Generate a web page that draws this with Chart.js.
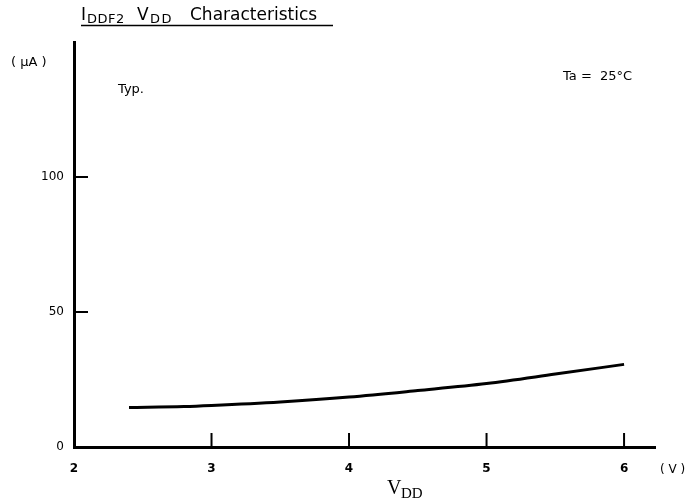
<!DOCTYPE html>
<html lang="en">
<head>
    <meta charset="UTF-8">
    <title>IDDF2 VDD Characteristics</title>
    <script src="https://cdn.jsdelivr.net/npm/chart.js"></script>
    <style>
        html, body { margin: 0; padding: 0; background: #fff; }
        canvas { display: block; }
    </style>
</head>
<body>
    <canvas id="iddChart" width="694" height="503"></canvas>

    <script>
        // values
        const vdd = [2.4, 2.8, 3.0, 3.5, 4.0, 4.5, 5.0, 5.5, 6.0];
        const idd = [14.6, 15.0, 15.4, 16.7, 18.5, 20.9, 23.5, 27.0, 30.6];
        const xTicks = [2, 3, 4, 5, 6];
        const yTicks = [0, 50, 100];

        const FONT = '"DejaVu Sans", sans-serif';

        // inward tick marks, drawn at the scale's own tick positions
        const tickMarks = {
            id: 'tickMarks',
            afterDraw(chart) {
                const { ctx, scales: { x, y } } = chart;
                ctx.save();
                ctx.strokeStyle = '#000';
                ctx.lineWidth = 2;
                x.ticks.forEach(t => {
                    if (t.value === x.min) return;
                    const px = x.getPixelForValue(t.value);
                    ctx.beginPath();
                    ctx.moveTo(px, y.bottom);
                    ctx.lineTo(px, y.bottom - 14);
                    ctx.stroke();
                });
                y.ticks.forEach(t => {
                    if (t.value === y.min) return;
                    const py = y.getPixelForValue(t.value);
                    ctx.beginPath();
                    ctx.moveTo(x.left, py);
                    ctx.lineTo(x.left + 14, py);
                    ctx.stroke();
                });
                ctx.restore();
            }
        };

        // title, units and notes
        const labels = {
            id: 'labels',
            afterDraw(chart) {
                const ctx = chart.ctx;
                ctx.save();
                ctx.fillStyle = '#000';
                ctx.textBaseline = 'alphabetic';
                ctx.textAlign = 'left';

                // title with subscripts
                ctx.font = '17px ' + FONT;
                ctx.fillText('I', 81, 20);
                ctx.fillText('V', 137, 20);
                ctx.fillText('Characteristics', 190, 20);
                ctx.font = '13px ' + FONT;
                ctx.letterSpacing = '0.5px';
                ctx.fillText('DDF2', 87, 23);
                ctx.letterSpacing = '1.5px';
                ctx.fillText('DD', 150, 23);
                ctx.letterSpacing = '0px';
                ctx.lineWidth = 1.5;
                ctx.beginPath();
                ctx.moveTo(81, 25.5);
                ctx.lineTo(333, 25.5);
                ctx.stroke();

                ctx.font = '13px ' + FONT;
                ctx.fillText('( \u00b5A )', 11, 66);
                ctx.fillText('Typ.', 118, 93);
                ctx.fillText('Ta =  25\u00b0C', 563, 80);
                ctx.font = '12px ' + FONT;
                ctx.fillText('( V )', 660, 473);

                // axis title VDD, serif
                ctx.font = '20px "Liberation Serif", serif';
                ctx.fillText('V', 387, 494);
                ctx.font = '15px "Liberation Serif", serif';
                ctx.fillText('DD', 401, 498);
                ctx.restore();
            }
        };

        new Chart(document.getElementById('iddChart'), {
            type: 'line',
            data: {
                datasets: [{
                    data: vdd.map((v, i) => ({ x: v, y: idd[i] })),
                    borderColor: '#000',
                    borderWidth: 3,
                    pointRadius: 0,
                    cubicInterpolationMode: 'monotone',
                    fill: false
                }]
            },
            options: {
                responsive: false,
                animation: false,
                layout: { padding: { left: 0, top: 42, right: 39, bottom: 0 } },
                plugins: {
                    legend: { display: false },
                    tooltip: { enabled: false }
                },
                scales: {
                    x: {
                        type: 'linear',
                        min: 2,
                        max: 6.225,
                        afterFit: s => { s.height = 56; },
                        afterBuildTicks: s => { s.ticks = xTicks.map(v => ({ value: v })); },
                        grid: { drawOnChartArea: false, drawTicks: false },
                        border: { color: '#000', width: 3 },
                        ticks: {
                            padding: 15,
                            color: '#000',
                            font: { family: FONT, size: 12, weight: 'bold' }
                        }
                    },
                    y: {
                        type: 'linear',
                        min: 0,
                        max: 150,
                        afterFit: s => { s.width = 74; },
                        afterBuildTicks: s => { s.ticks = yTicks.map(v => ({ value: v })); },
                        grid: { drawOnChartArea: false, drawTicks: false },
                        border: { color: '#000', width: 3 },
                        ticks: {
                            padding: 10,
                            color: '#000',
                            font: { family: FONT, size: 12 }
                        }
                    }
                }
            },
            plugins: [tickMarks, labels]
        });
    </script>
</body>
</html>
